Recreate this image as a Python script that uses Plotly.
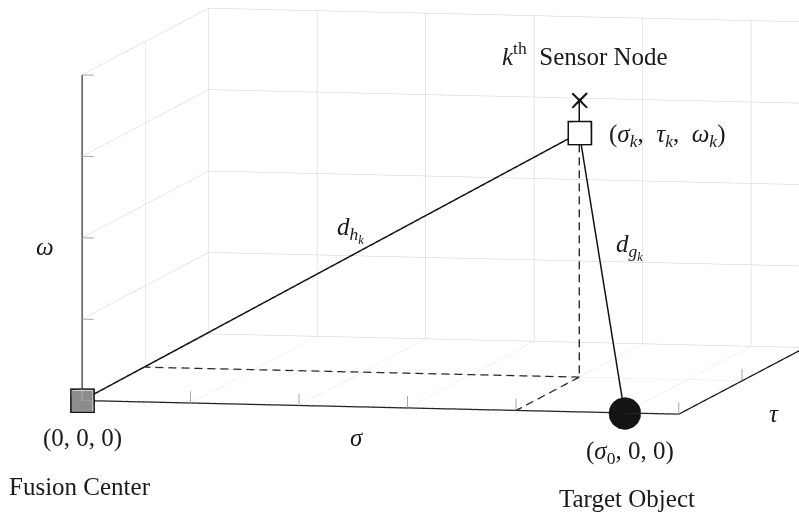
import numpy as np
import plotly.graph_objects as go

# ---- coordinate system (sigma, tau, omega) ----
SIGMA_RANGE = [0, 5.5]
TAU_RANGE = [0, 2]
OMEGA_RANGE = [0, 4]
SIGMA_TICKS = [1, 2, 3, 4]      # ticks not hidden behind a node
TAU_TICKS = [0, 1, 2]
OMEGA_TICKS = [1, 2, 3, 4]

# ---- node positions ----
fusion_center = [0, 0, 0]
target_object = [5, 0, 0]
sensor_node = [4, 1, 3]
antenna_tip = [4, 1, 3.4]

# projections of the sensor node used for the dashed guides
sensor_floor = [sensor_node[0], sensor_node[1], 0]
sensor_on_sigma = [sensor_node[0], 0, 0]
sensor_on_tau = [0, sensor_node[1], 0]

# ---- view ----
W, H = 799, 512
AZIMUTH = np.radians(-78.23)
ELEVATION = np.radians(6.30)
PX_PER_UNIT = np.array([110.83, 310.3, 81.9])    # sigma, tau, omega
WORLD_PER_PX = 1 / 256
BOX_CENTER_PX = np.array([443.7, 211.2])
EYE_DIST = 3.0

eye_dir = np.array([np.cos(ELEVATION) * np.cos(AZIMUTH),
                    np.cos(ELEVATION) * np.sin(AZIMUTH),
                    np.sin(ELEVATION)])
right_vec = np.array([-np.sin(AZIMUTH), np.cos(AZIMUTH), 0.0])
up_vec = np.array([-np.sin(ELEVATION) * np.cos(AZIMUTH),
                   -np.sin(AZIMUTH) * np.sin(ELEVATION),
                   np.cos(ELEVATION)])
spans = np.array([SIGMA_RANGE[1] - SIGMA_RANGE[0],
                  TAU_RANGE[1] - TAU_RANGE[0],
                  OMEGA_RANGE[1] - OMEGA_RANGE[0]])
aspect = spans * PX_PER_UNIT * WORLD_PER_PX
shift_px = np.array([W / 2, H / 2]) - BOX_CENTER_PX
cam_center = WORLD_PER_PX * (shift_px[0] * right_vec - shift_px[1] * up_vec)
cam_eye = cam_center + EYE_DIST * eye_dir

# node glyphs: on-screen half sizes (px) and the matching plotly marker sizes
SQUARE_HALF = 11.5
CIRCLE_HALF = 15.0
SQUARE_OUTLINE_SIZE = 10.4
SQUARE_FILL_SIZE = 10.8
CIRCLE_SIZE = 18.8


def screen_vec(v):
    """On-screen (right, up) displacement in px of a data-space vector."""
    w = np.asarray(v, float) * PX_PER_UNIT
    return np.array([w @ right_vec, w @ up_vec])


def exit_px(d, half, shape):
    """Distance from a glyph centre to its edge along screen direction d."""
    if half == 0:
        return 0.0
    u = d / np.linalg.norm(d)
    if shape == "square":
        return half / max(abs(u[0]), abs(u[1]))
    return half


def trimmed(a, b, ga=(0, ""), gb=(0, "")):
    """Segment a->b with its ends pulled back to the edges of the node glyphs."""
    a, b = np.asarray(a, float), np.asarray(b, float)
    d = screen_vec(b - a)
    L = np.linalg.norm(d)
    t0 = exit_px(d, *ga) / L
    t1 = 1 - exit_px(-d, *gb) / L
    return a + t0 * (b - a), a + t1 * (b - a)


def dashed(a, b, dash_px=8.0, gap_px=5.0):
    """Coordinates of a dashed segment a->b, with dashes sized in screen pixels."""
    a, b = np.asarray(a, float), np.asarray(b, float)
    total = np.linalg.norm(screen_vec(b - a))
    xs, ys, zs = [], [], []
    s = 0.0
    while s < total:
        e = min(s + dash_px, total)
        for t in (s / total, e / total):
            p = a + t * (b - a)
            xs.append(p[0]); ys.append(p[1]); zs.append(p[2])
        xs.append(None); ys.append(None); zs.append(None)
        s += dash_px + gap_px
    return xs, ys, zs


def seg(a, b):
    return dict(x=[a[0], b[0]], y=[a[1], b[1]], z=[a[2], b[2]])


INK = "#111111"
TICK = "#a6a6a6"
SQ = (SQUARE_HALF, "square")
CI = (CIRCLE_HALF, "circle")
fig = go.Figure()

# tick marks: sigma and tau ticks point up, omega ticks point along sigma
tick_len = 12.0
up_step = tick_len / PX_PER_UNIT[2]
right_step = tick_len / PX_PER_UNIT[0]
tx, ty, tz = [], [], []
for s in SIGMA_TICKS:
    tx += [s, s, None]; ty += [0, 0, None]; tz += [0, up_step, None]
for t in TAU_TICKS:
    tx += [SIGMA_RANGE[1]] * 2 + [None]; ty += [t, t, None]; tz += [0, up_step, None]
for w in OMEGA_TICKS:
    tx += [0, right_step, None]; ty += [0, 0, None]; tz += [w, w, None]
fig.add_trace(go.Scatter3d(x=tx, y=ty, z=tz, mode="lines",
                           line=dict(color=TICK, width=2)))

# axis lines
for a, b, ga in [([SIGMA_RANGE[0], 0, 0], [SIGMA_RANGE[1], 0, 0], SQ),
                 ([SIGMA_RANGE[1], TAU_RANGE[0], 0], [SIGMA_RANGE[1], TAU_RANGE[1], 0], (0, "")),
                 ([0, 0, OMEGA_RANGE[0]], [0, 0, OMEGA_RANGE[1]], SQ)]:
    p, q = trimmed(a, b, ga)
    fig.add_trace(go.Scatter3d(**seg(p, q), mode="lines",
                               line=dict(color=INK, width=2.5)))

# distances to the sensor node, and its antenna
for a, b, ga, gb in [(fusion_center, sensor_node, SQ, SQ),
                     (sensor_node, target_object, SQ, CI),
                     (sensor_node, antenna_tip, SQ, (0, ""))]:
    p, q = trimmed(a, b, ga, gb)
    fig.add_trace(go.Scatter3d(**seg(p, q), mode="lines",
                               line=dict(color=INK, width=3)))

# dashed projection guides
for a, b, ga in [(sensor_node, sensor_floor, SQ), (sensor_floor, sensor_on_sigma, (0, "")),
                 (sensor_floor, sensor_on_tau, (0, ""))]:
    p, q = trimmed(a, b, ga)
    dx, dy, dz = dashed(p, q)
    fig.add_trace(go.Scatter3d(x=dx, y=dy, z=dz, mode="lines",
                               line=dict(color=INK, width=2.5)))

# nodes: outlined squares for the fusion center and the sensor, disc for the target
for pos, fill in [(fusion_center, "#8c8c8f"), (sensor_node, "white")]:
    fig.add_trace(go.Scatter3d(x=[pos[0]], y=[pos[1]], z=[pos[2]], mode="markers",
                               marker=dict(symbol="square-open", size=SQUARE_OUTLINE_SIZE,
                                           color=INK)))
    fig.add_trace(go.Scatter3d(x=[pos[0]], y=[pos[1]], z=[pos[2]], mode="markers",
                               marker=dict(symbol="square", size=SQUARE_FILL_SIZE, color=fill)))
fig.add_trace(go.Scatter3d(x=[target_object[0]], y=[target_object[1]], z=[target_object[2]],
                           mode="markers",
                           marker=dict(symbol="circle", size=CIRCLE_SIZE, color="#141414")))
fig.add_trace(go.Scatter3d(x=[antenna_tip[0]], y=[antenna_tip[1]], z=[antenna_tip[2]],
                           mode="text", text=["×"], textposition="middle center",
                           textfont=dict(family="Liberation Serif", size=40, color=INK)))

FONT = dict(family="Liberation Serif", size=25, color="#1a1a1a")
NB = "\u00a0"


def label(pos, text, dx=0, dy=0, xanchor="center"):
    return dict(x=pos[0], y=pos[1], z=pos[2], text=text, showarrow=False,
                xshift=dx, yshift=dy, xanchor=xanchor, yanchor="middle", font=FONT)


mid_h = [(a + b) / 2 for a, b in zip(fusion_center, sensor_node)]
mid_g = [(a + b) / 2 for a, b in zip(sensor_node, target_object)]

annotations = [
    label(fusion_center, "(0, 0, 0)", 0, -37),
    label(fusion_center, "Fusion Center", -2, -86),
    label(target_object, "(<i>σ</i><sub>0</sub>, 0, 0)", 5, -40),
    label(target_object, "Target Object", 2, -86),
    label(sensor_node, f"<i>k</i><sup>th</sup>{NB}{NB}Sensor Node", 6, 79),
    label(sensor_node, f"(<i>σ<sub>k</sub></i>,{NB}{NB}<i>τ<sub>k</sub></i>,{NB}{NB}"
                       f"<i>ω<sub>k</sub></i>)", 28, -3, "left"),
    label(mid_h, "<i>d<sub>h<sub>k</sub></sub></i>", 20, 37),
    label(mid_g, "<i>d<sub>g<sub>k</sub></sub></i>", 28, 26),
    label([2.5, 0, 0], "<i>σ</i>", 4, -31),
    label([SIGMA_RANGE[1], 1, 0], "<i>τ</i>", 32, -33),
    label([0, 0, 2], "<i>ω</i>", -37, -9),
]

axis_style = dict(showgrid=True, gridcolor="#cfcfcf", gridwidth=1,
                  showline=False, zeroline=False, showbackground=False,
                  showticklabels=False, ticks="",
                  showspikes=False, dtick=1, title=dict(text=""))

fig.update_layout(
    width=W, height=H,
    margin=dict(l=0, r=0, t=0, b=0),
    paper_bgcolor="white",
    showlegend=False,
    hovermode=False,
    scene=dict(
        domain=dict(x=[0, 1], y=[0, 1]),
        xaxis=dict(range=SIGMA_RANGE, **axis_style),
        yaxis=dict(range=TAU_RANGE, **axis_style),
        zaxis=dict(range=OMEGA_RANGE, **axis_style),
        aspectmode="manual",
        aspectratio=dict(x=aspect[0], y=aspect[1], z=aspect[2]),
        camera=dict(projection=dict(type="orthographic"),
                    up=dict(x=0, y=0, z=1),
                    center=dict(x=cam_center[0], y=cam_center[1], z=cam_center[2]),
                    eye=dict(x=cam_eye[0], y=cam_eye[1], z=cam_eye[2])),
        annotations=annotations,
    ),
)

fig.write_html("out.html")
